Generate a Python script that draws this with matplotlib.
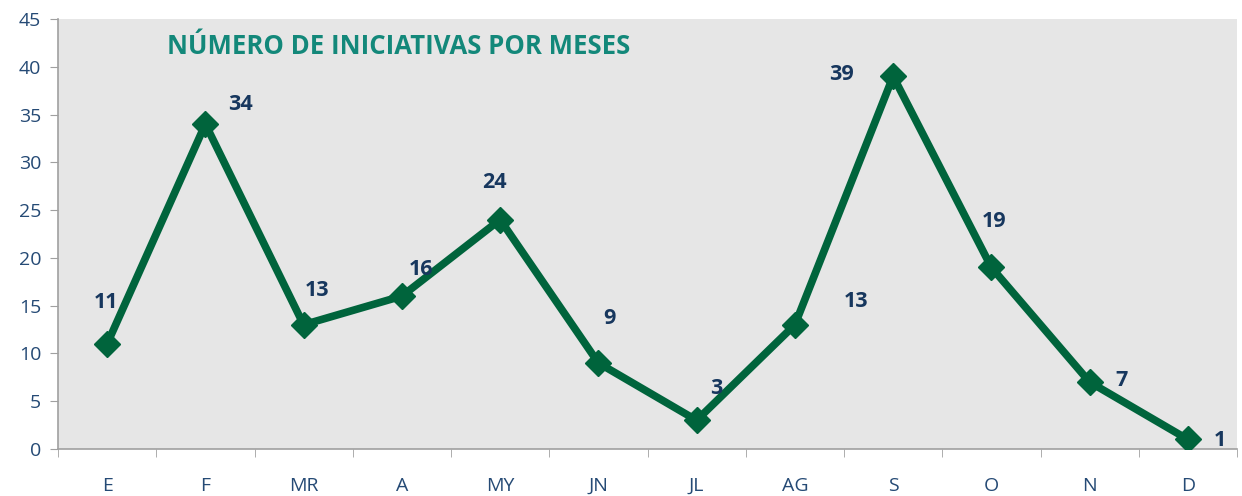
import matplotlib
matplotlib.use("Agg")
import matplotlib.pyplot as plt

months = ["E", "F", "MR", "A", "MY", "JN", "JL", "AG", "S", "O", "N", "D"]
iniciativas = [11, 34, 13, 16, 24, 9, 3, 13, 39, 19, 7, 1]
yticks = list(range(0, 50, 5))

# label offsets (points) relative to each marker, as placed in the original
label_offsets = [(-1, 30), (25, 14), (10, 25), (14, 19), (-4, 27), (8, 32),
                 (14, 23), (44, 17), (-37, 1), (2, 33), (23, 1), (23, -1)]

plt.rcParams['font.family'] = ['Open Sans', 'DejaVu Sans']

fig = plt.figure(figsize=(12.42, 4.96), dpi=100)
ax = fig.add_axes([0.0467, 0.0948, 0.9493, 0.867])
ax.set_facecolor('#E6E6E6')

x = list(range(len(months)))
ax.plot(x, iniciativas, color='#00643C', lw=5.5, marker='D', ms=13,
        solid_joinstyle='miter', zorder=3)

for xi, v, off in zip(x, iniciativas, label_offsets):
    ax.annotate(str(v), (xi, v), xytext=off, textcoords='offset points',
                ha='center', va='center', fontsize=15.5, fontweight='bold',
                color='#17375E', zorder=4)

ax.text(0.0925, 0.935, "NÚMERO DE INICIATIVAS POR MESES", transform=ax.transAxes,
        fontsize=18.5, fontweight='bold', color='#13887A', va='center', ha='left')

ax.set_xlim(-0.5, len(months) - 0.5)
ax.set_ylim(0, 45)
ax.set_yticks(yticks)
ax.set_xticks(x)
ax.set_xticklabels(months)
ax.set_xticks([i - 0.5 for i in range(len(months) + 1)], minor=True)
ax.tick_params(axis='x', which='major', length=0, pad=20, labelsize=14, labelcolor='#254A75')
ax.tick_params(axis='x', which='minor', length=6, color='#A0A0A0', direction='out')
ax.tick_params(axis='y', length=6, color='#A0A0A0', labelsize=14, labelcolor='#254A75', pad=6)

for s in ['top', 'right']:
    ax.spines[s].set_visible(False)
for s in ['left', 'bottom']:
    ax.spines[s].set_color('#A0A0A0')
    ax.spines[s].set_linewidth(1.2)

fig.savefig('out.png', dpi=100)
